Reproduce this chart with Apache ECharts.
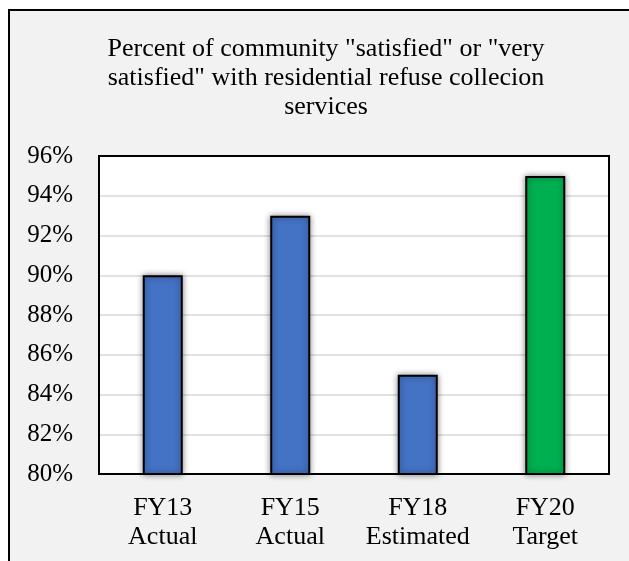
<!DOCTYPE html>
<html>
<head>
<meta charset="utf-8">
<script src="https://cdn.jsdelivr.net/npm/echarts@6/dist/echarts.min.js"></script>
<style>
  html, body { margin: 0; padding: 0; background: #fff; overflow: hidden; }
  #frame { position: absolute; left: 8px; top: 9px; width: 700px; height: 700px;
           background: #f2f2f2; border-left: 2px solid #000; border-top: 2px solid #000; }
  #main { position: absolute; left: 0; top: 0; width: 629px; height: 561px; }
</style>
</head>
<body>
<div id="frame"></div>
<div id="main"></div>
<script type="text/javascript">
var categories = ['FY13\nActual', 'FY15\nActual', 'FY18\nEstimated', 'FY20\nTarget'];
var values = [90, 93, 85, 95];
var colors = ['#4472c4', '#4472c4', '#4472c4', '#00b050'];

var myChart = echarts.init(document.getElementById('main'));
myChart.setOption({
    backgroundColor: 'transparent',
    animation: false,
    title: {
        text: 'Percent of community "satisfied" or "very\nsatisfied" with residential refuse collecion\nservices',
        left: 321,
        top: 30,
        textAlign: 'center',
        textStyle: {
            fontFamily: 'Liberation Serif',
            fontSize: 26,
            fontWeight: 'normal',
            color: '#000',
            lineHeight: 29
        }
    },
    grid: {
        left: 99,
        top: 156,
        width: 510,
        height: 318,
        show: true,
        backgroundColor: '#fff',
        borderWidth: 0
    },
    // plot frame drawn above the grid lines
    graphic: [{
        type: 'rect',
        z: 100,
        shape: { x: 99, y: 156, width: 510, height: 318 },
        style: { fill: 'none', stroke: '#000', lineWidth: 2 }
    }],
    xAxis: {
        type: 'category',
        data: categories,
        axisLine: { show: false },
        axisTick: { show: false },
        axisLabel: {
            interval: 0,
            fontFamily: 'Liberation Serif',
            fontSize: 26,
            color: '#000',
            lineHeight: 29,
            margin: 20
        }
    },
    yAxis: {
        type: 'value',
        min: 80,
        max: 96,
        interval: 2,
        axisLine: { show: false },
        axisTick: { show: false },
        splitLine: { lineStyle: { color: '#d9d9d9', width: 1.5 } },
        axisLabel: {
            formatter: '{value}%',
            fontFamily: 'Liberation Serif',
            fontSize: 25,
            color: '#000',
            margin: 26
        }
    },
    series: [{
        type: 'bar',
        barWidth: 40,
        data: values.map(function (v, i) {
            return { value: v, itemStyle: { color: colors[i] } };
        }),
        itemStyle: {
            borderColor: '#000',
            borderWidth: 2,
            shadowBlur: 6,
            shadowColor: 'rgba(0,0,0,0.45)'
        }
    }]
});
</script>
</body>
</html>
